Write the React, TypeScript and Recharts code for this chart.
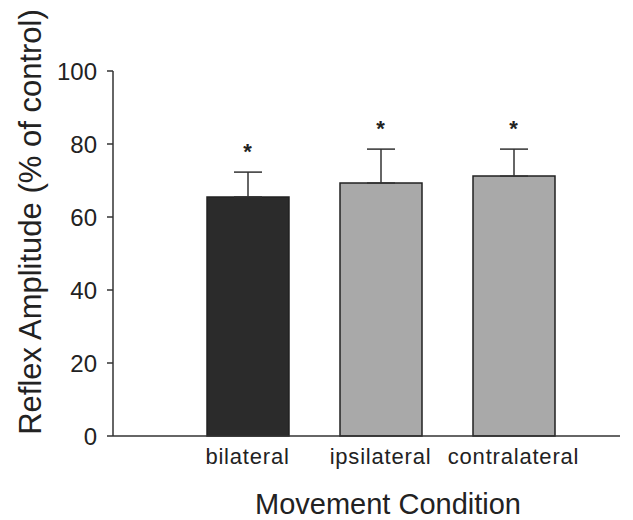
import React from "react";
import {
  ComposedChart,
  Bar,
  Cell,
  ErrorBar,
  Line,
  LabelList,
  XAxis,
  YAxis,
  Label,
} from "recharts";

const categories = ["bilateral", "ipsilateral", "contralateral"];
const means = [65.5, 69.3, 71.2];
const errors = [6.8, 9.3, 7.4];
const marks = ["*", "*", "*"];
const barColors = ["#2b2b2b", "#a9a9a9", "#a9a9a9"];
const yTicks = [0, 20, 40, 60, 80, 100];

const data = categories.map((name, i) => ({
  name,
  value: means[i],
  err: [0, errors[i]],
  top: means[i] + errors[i],
  mark: marks[i],
}));

const font = "'Liberation Sans', Arial, sans-serif";

const App = () => {
  return (
    <ComposedChart
      width={625}
      height={512}
      data={data}
      margin={{ top: 63, right: 13, left: 0, bottom: 0 }}
      style={{ fontFamily: font }}
    >
      <XAxis
        dataKey="name"
        height={84}
        padding={{ left: 68, right: 40 }}
        tickLine={false}
        tickMargin={6}
        axisLine={{ stroke: "#333", strokeWidth: 1.5 }}
        tick={{ fill: "#222", fontSize: 22, fontFamily: font, letterSpacing: 0.8 }}
      >
        <Label
          content={() => (
            <text
              x={380}
              y={496}
              textAnchor="middle"
              dominantBaseline="central"
              fontSize={29}
              fill="#222"
              fontFamily={font}
            >
              Movement Condition
            </text>
          )}
        />
      </XAxis>
      <YAxis
        width={105}
        domain={[0, 100]}
        ticks={yTicks}
        tickSize={6}
        tickMargin={10}
        axisLine={{ stroke: "#333", strokeWidth: 1.5 }}
        tickLine={{ stroke: "#333", strokeWidth: 1.5 }}
        tick={{ fill: "#222", fontSize: 24, fontFamily: font }}
      >
        <Label
          content={() => (
            <text
              x={22}
              y={214}
              transform="rotate(-90 22 214)"
              textAnchor="middle"
              dominantBaseline="central"
              fontSize={31}
              fill="#222"
              fontFamily={font}
            >
              Reflex Amplitude (% of control)
            </text>
          )}
        />
      </YAxis>
      <Bar
        dataKey="value"
        barSize={82}
        stroke="#222"
        strokeWidth={1.5}
        isAnimationActive={false}
      >
        {data.map((d, i) => (
          <Cell key={d.name} fill={barColors[i]} />
        ))}
        <ErrorBar
          dataKey="err"
          direction="y"
          width={14}
          stroke="#333"
          strokeWidth={1.5}
        />
      </Bar>
      <Line
        dataKey="top"
        stroke="none"
        dot={false}
        activeDot={false}
        isAnimationActive={false}
      >
        <LabelList
          dataKey="mark"
          position="top"
          offset={13}
          fill="#222"
          fontSize={22}
          fontWeight="bold"
          fontFamily={font}
        />
      </Line>
    </ComposedChart>
  );
};

export default App;
